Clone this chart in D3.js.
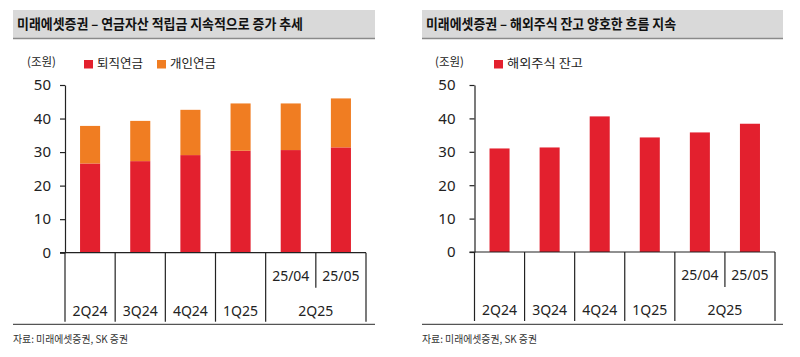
<!DOCTYPE html>
<html><head><meta charset="utf-8">
<script src="https://cdn.jsdelivr.net/npm/d3@7/dist/d3.min.js"></script>
<style>
body{margin:0;background:#fff;}
svg{display:block;font-family:"Noto Sans CJK KR","Noto Sans",sans-serif;}
</style></head>
<body><svg id="c" width="800" height="357"></svg>
<script>
const categories = ["2Q24","3Q24","4Q24","1Q25","25/04","25/05"];
const groupLabels = ["2Q24","3Q24","4Q24","1Q25","2Q25"];
const groupSpans = [1,1,1,1,2];
const monthLabels = ["","","","","25/04","25/05"];
const retirement = [26.6,27.3,29.1,30.4,30.6,31.4];
const personal = [11.2,12.0,13.5,14.1,13.9,14.6];
const overseas = [31.0,31.3,40.6,34.3,35.8,38.4];
const yTicks = [0,10,20,30,40,50];
const leftTitle = "미래에셋증권 – 연금자산 적립금 지속적으로 증가 추세";
const rightTitle = "미래에셋증권 – 해외주식 잔고 양호한 흐름 지속";
const unitLabel = "(조원)";
const leftSeries = ["퇴직연금","개인연금"];
const rightSeries = ["해외주식 잔고"];
const source = "자료: 미래에셋증권, SK 증권";

const RED = "#E3202E", ORANGE = "#F07D22";
const svg = d3.select("#c");
const numFont = "'Noto Sans',sans-serif";

function panel(o){
  const g = svg.append("g");
  // title band
  g.append("rect").attr("x",o.bx).attr("y",10).attr("width",o.bw).attr("height",28).attr("fill","#D9D9D9");
  g.append("line").attr("x1",o.bx).attr("x2",o.bx+o.bw).attr("y1",38.5).attr("y2",38.5).attr("stroke","#8a8a8a").attr("stroke-width",1.5);
  g.append("text").attr("x",o.bx+4).attr("y",29).attr("font-size",13.5).attr("font-weight","bold").attr("fill","#111")
    .attr("textLength",o.tw).attr("lengthAdjust","spacingAndGlyphs").text(o.title);
  // unit + legend
  g.append("text").attr("x",o.ux).attr("y",66).attr("font-size",11.5).attr("fill","#222").text(unitLabel);
  o.legend.forEach((l,i)=>{
    g.append("rect").attr("x",l.x).attr("y",60).attr("width",9).attr("height",8.5).attr("fill",l.c);
    g.append("text").attr("x",l.x+13).attr("y",68).attr("font-size",12).attr("fill","#222")
      .attr("textLength",l.tw).attr("lengthAdjust","spacingAndGlyphs").text(l.t);
  });

  const x = d3.scaleBand().domain(categories).range([o.x0,o.x1]).paddingInner(0.6).paddingOuter(0.3);
  const y = d3.scaleLinear().domain([0,50]).range([o.y0,o.y50]);
  const step = x.step();

  // bars
  o.stack.forEach((s,si)=>{
    g.append("g").selectAll("rect").data(categories).join("rect")
      .attr("x",d=>x(d)).attr("width",x.bandwidth())
      .attr("y",(d,i)=>y(s.base[i]+s.vals[i])).attr("height",(d,i)=>y(s.base[i])-y(s.base[i]+s.vals[i]))
      .attr("fill",s.c);
  });

  // y axis
  const ya = g.append("g").attr("transform",`translate(${o.x0},0)`)
    .call(d3.axisLeft(y).tickValues(yTicks).tickSize(5).tickSizeOuter(0).tickPadding(o.tp));
  ya.selectAll("path,line").attr("stroke","#222").attr("stroke-width",1.2);
  ya.selectAll("text").attr("font-family",numFont).attr("font-size",15).attr("fill","#222");

  // x axis line
  g.append("line").attr("x1",o.x0-5).attr("x2",o.x1).attr("y1",o.y0).attr("y2",o.y0).attr("stroke","#222").attr("stroke-width",1.2);
  // dividers
  const bounds = d3.range(categories.length+1).map(i=>o.x0 + i*step);
  bounds.forEach((bx,i)=>{
    const short = (i===5);
    g.append("line").attr("x1",bx).attr("x2",bx).attr("y1",o.y0).attr("y2",short?o.y0+35:o.y0+69)
      .attr("stroke","#222").attr("stroke-width",1.2);
  });
  // month labels
  g.append("g").selectAll("text").data(categories).join("text")
    .attr("x",d=>x(d)+x.bandwidth()/2).attr("y",o.y0+28).attr("text-anchor","middle")
    .attr("font-family",numFont).attr("font-size",14).attr("fill","#222")
    .text((d,i)=>monthLabels[i]);
  // group labels
  let start=0;
  groupLabels.forEach((lab,i)=>{
    const span = groupSpans[i];
    const cx = o.x0 + (start + span/2)*step;
    g.append("text").attr("x",cx).attr("y",o.y0+63).attr("text-anchor","middle")
      .attr("font-family",numFont).attr("font-size",14).attr("fill","#222").text(lab);
    start += span;
  });
  // bottom rule
  g.append("line").attr("x1",o.bx).attr("x2",o.bx+o.bw).attr("y1",o.ry).attr("y2",o.ry).attr("stroke","#555").attr("stroke-width",1.2);
  g.append("text").attr("x",o.bx).attr("y",o.ry+19).attr("font-size",10.5).attr("fill","#333")
    .attr("textLength",115).attr("lengthAdjust","spacingAndGlyphs").text(source);
}

panel({bx:13,bw:362,title:leftTitle,tw:286,ux:27,tp:9,
  legend:[{x:84,c:RED,t:leftSeries[0],tw:46},{x:157,c:ORANGE,t:leftSeries[1],tw:46}],
  x0:65,x1:366,y0:252.7,y50:85,ry:324.3,
  stack:[{vals:retirement,base:retirement.map(()=>0),c:RED},{vals:personal,base:retirement,c:ORANGE}]});

panel({bx:422,bw:361,title:rightTitle,tw:250,ux:435,tp:14,
  legend:[{x:494,c:RED,t:rightSeries[0],tw:76}],
  x0:474.5,x1:775,y0:252,y50:85,ry:324.3,
  stack:[{vals:overseas,base:overseas.map(()=>0),c:RED}]});
</script></body></html>
